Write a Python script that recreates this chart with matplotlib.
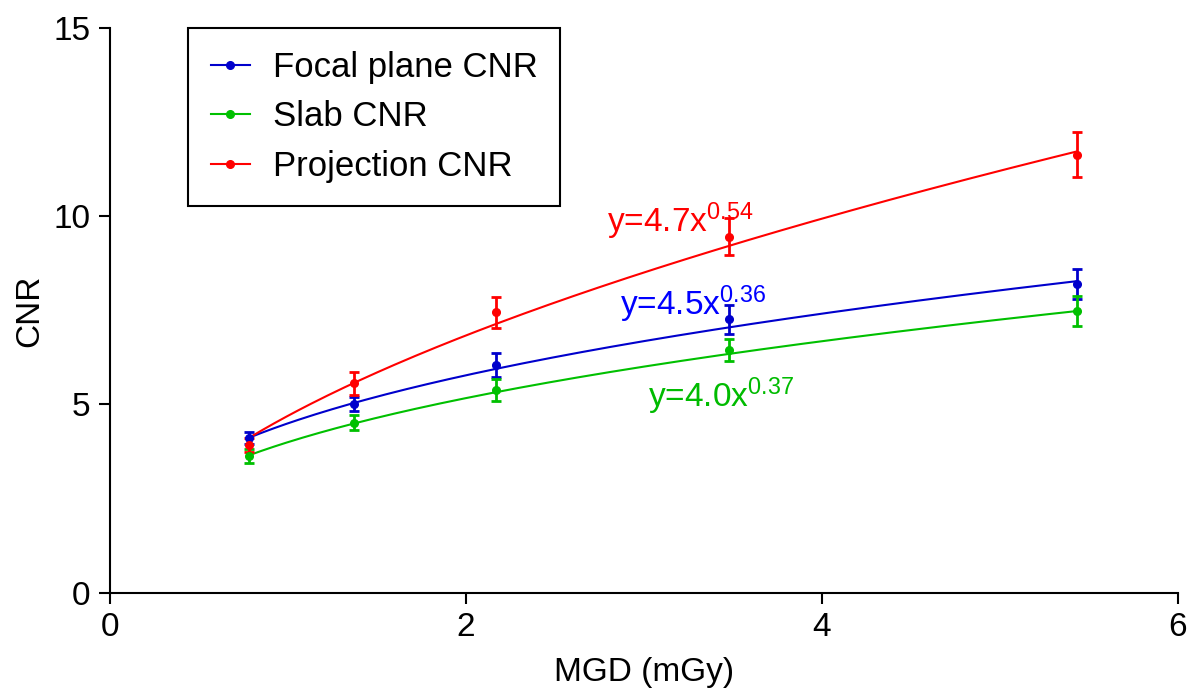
import matplotlib.pyplot as plt
import numpy as np
from matplotlib.lines import Line2D

plt.rcParams['font.family'] = ['Liberation Sans', 'DejaVu Sans']
plt.rcParams['mathtext.fontset'] = 'custom'
plt.rcParams['mathtext.rm'] = 'Liberation Sans'
plt.rcParams['mathtext.it'] = 'Liberation Sans'

# dose points (mGy)
mgd = [0.78, 1.37, 2.17, 3.48, 5.43]

# measured CNR and error bars
focal_cnr = [4.10, 5.02, 6.05, 7.26, 8.21]
focal_err = [0.16, 0.19, 0.31, 0.39, 0.40]
slab_cnr = [3.63, 4.52, 5.38, 6.45, 7.48]
slab_err = [0.19, 0.21, 0.30, 0.30, 0.40]
proj_cnr = [3.92, 5.56, 7.45, 9.46, 11.63]
proj_err = [0.19, 0.30, 0.41, 0.50, 0.60]

# power-law fits y = a * x^b, as printed on the chart
fit_a = {'focal': 4.5, 'slab': 4.0, 'proj': 4.7}
fit_b = {'focal': 0.36, 'slab': 0.37, 'proj': 0.54}

labels = ['Focal plane CNR', 'Slab CNR', 'Projection CNR']
blue = '#0000CC'
green = '#00C000'
red = '#FF0000'

fig = plt.figure(figsize=(11.93, 6.93), dpi=100)
ax = fig.add_axes([0.0922, 0.1447, 0.8952, 0.8149])

xfit = np.linspace(min(mgd), max(mgd), 200)
series = [('focal', focal_cnr, focal_err, blue),
          ('slab', slab_cnr, slab_err, green),
          ('proj', proj_cnr, proj_err, red)]
for key, y, err, col in series:
    ax.plot(xfit, fit_a[key] * xfit ** fit_b[key], color=col, lw=1.5)
    ax.errorbar(mgd, y, yerr=err, fmt='o', color=col, ms=5.5,
                elinewidth=2, capsize=3.5, capthick=2)

# fit equations
ax.text(2.79, 9.58, r'y=4.7x$^{0.54}$', color='#FF0000', fontsize=24)
ax.text(2.865, 7.38, r'y=4.5x$^{0.36}$', color='#0000FF', fontsize=24)
ax.text(3.02, 4.94, r'y=4.0x$^{0.37}$', color='#00BB00', fontsize=24)

ax.set_xlim(0, 6)
ax.set_ylim(0, 15)
ax.set_xticks([0, 2, 4, 6])
ax.set_yticks([0, 5, 10, 15])
ax.spines['top'].set_visible(False)
ax.spines['right'].set_visible(False)
for s in ['left', 'bottom']:
    ax.spines[s].set_linewidth(1.5)
ax.tick_params(direction='out', length=8, width=1.5, labelsize=24, pad=6)
ax.set_xlabel('MGD (mGy)', fontsize=24, labelpad=10)
ax.set_ylabel('CNR', fontsize=24, labelpad=6)

handles = [Line2D([0], [0], color=c, lw=1.5, marker='o', ms=5.5)
           for c in [blue, green, red]]
leg = ax.legend(handles, labels, loc='upper left', bbox_to_anchor=(0.073, 1.0),
                borderaxespad=0, fontsize=25, handlelength=1.12, handletextpad=0.66,
                labelspacing=0.475, borderpad=0.66, fancybox=False, framealpha=1)
leg.get_frame().set_edgecolor('black')
leg.get_frame().set_linewidth(1.5)

plt.savefig('out.png', dpi=100)
